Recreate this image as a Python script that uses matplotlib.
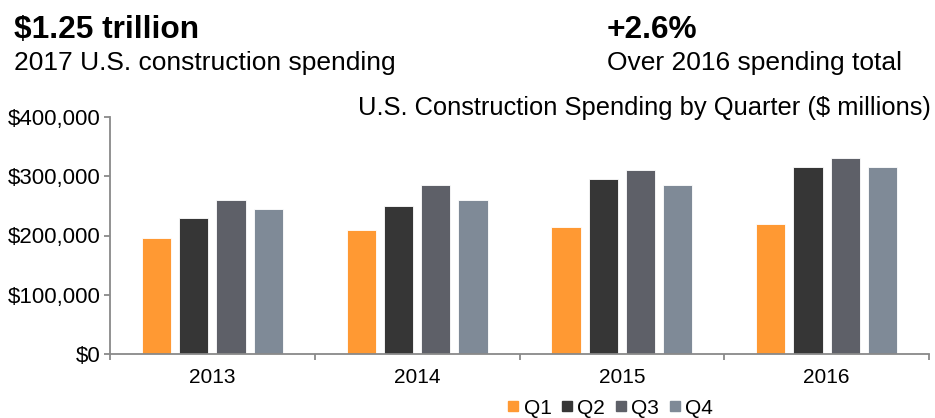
import matplotlib
matplotlib.use("Agg")
import matplotlib.pyplot as plt
from matplotlib.lines import Line2D
from matplotlib.ticker import FuncFormatter, FixedLocator
import numpy as np

plt.rcParams['font.family'] = ['Liberation Sans', 'DejaVu Sans']

years = ["2013", "2014", "2015", "2016"]
quarters = ["Q1", "Q2", "Q3", "Q4"]
q1 = [195000, 210000, 215000, 220000]
q2 = [230000, 250000, 295000, 315000]
q3 = [260000, 285000, 310000, 330000]
q4 = [245000, 260000, 285000, 315000]
series = [q1, q2, q3, q4]
colors = ["#FF9933", "#363636", "#5E6068", "#7F8A97"]
yticks = [0, 100000, 200000, 300000, 400000]

fig = plt.figure(figsize=(9.35, 4.18), dpi=100)
ax = fig.add_axes([110/935, 1 - 354.3/418, (929 - 110)/935, (354.3 - 116.7)/418])

x = np.arange(len(years))
bw = 0.143
step = 0.182
for i, (vals, c) in enumerate(zip(series, colors)):
    ax.bar(x + (i - 1.5) * step, vals, width=bw, color=c, edgecolor="white",
           linewidth=0.6, zorder=2)

ax.set_xlim(-0.5, 3.5)
ax.set_ylim(0, 400000)
ax.set_yticks(yticks)
ax.yaxis.set_major_formatter(FuncFormatter(lambda v, p: "${:,.0f}".format(v)))
ax.set_xticks(x)
ax.set_xticklabels(years)
ax.xaxis.set_minor_locator(FixedLocator(np.arange(-0.5, 4.0, 1.0)))
ax.tick_params(axis='x', which='major', length=0, labelsize=15, pad=10, colors="black")
ax.tick_params(axis='x', which='minor', length=4, width=1.3, color="#898989", direction='out')
ax.tick_params(axis='y', which='major', length=4, width=1.3, color="#898989", labelsize=16, pad=3)

for s in ["top", "right"]:
    ax.spines[s].set_visible(False)
for s in ["left", "bottom"]:
    ax.spines[s].set_color("#898989")
    ax.spines[s].set_linewidth(1.3)

fig.text(14/935, 1 - 38/418, "$1.25 trillion", fontsize=22.8, fontweight="bold", va="baseline", ha="left")
fig.text(14/935, 1 - 70/418, "2017 U.S. construction spending", fontsize=19, va="baseline", ha="left")
fig.text(607/935, 1 - 38/418, "+2.6%", fontsize=22.8, fontweight="bold", va="baseline", ha="left")
fig.text(607/935, 1 - 70/418, "Over 2016 spending total", fontsize=19, va="baseline", ha="left")
fig.text(931/935, 1 - 115/418, "U.S. Construction Spending by Quarter ($ millions)", fontsize=18.4,
         va="baseline", ha="right")

handles = [Line2D([], [], marker='s', linestyle='', color=c, markersize=7.5) for c in colors]
fig.legend(handles, quarters, loc="center", bbox_to_anchor=(610/935, 1 - 408/418), ncol=4,
           frameon=False, fontsize=15, handlelength=0.6, handletextpad=0.2,
           columnspacing=0.45, borderpad=0, borderaxespad=0)

fig.savefig("out.png", dpi=100)
